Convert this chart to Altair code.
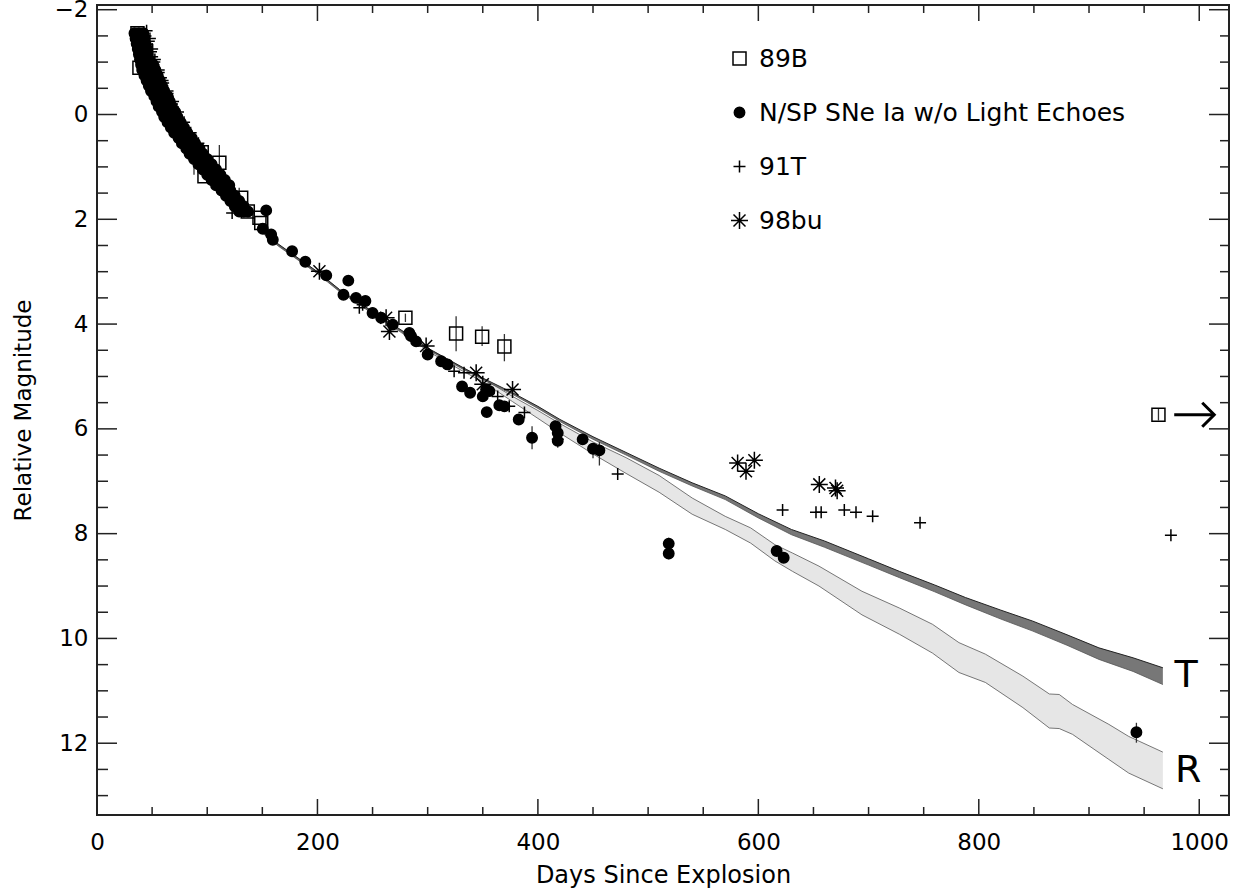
import altair as alt
import pandas as pd

# ---------------- data ----------------
series_names = ["89B", "N/SP SNe Ia w/o Light Echoes", "91T", "98bu"]

sq_day = [36.7, 38.5, 44.6, 95, 97.5, 111, 130.8, 136.8, 147.4, 149, 279.8, 325.8, 349.4, 369.6, 963]
sq_mag = [-1.55, -0.89, -1.21, 0.72, 1.18, 0.92, 1.59, 1.85, 1.97, 2.07, 3.88, 4.18, 4.24, 4.43, 5.73]

# dense early N/SP photometry (rows of roughly equal magnitude)
nsp_early_day = [34, 38, 42, 35, 39, 43, 36, 40, 44, 37, 41, 45, 38, 42, 46, 39, 43, 47,
                 40, 44, 48, 51, 41, 45, 49, 53, 43, 47, 51, 55, 45, 49, 53, 57, 47, 51, 55, 59,
                 49, 53, 57, 61, 52, 56, 60, 64, 54, 58, 62, 66, 56, 60, 64, 68, 59, 63, 67, 71,
                 61, 65, 69, 73, 64, 68, 72, 76, 67, 71, 75, 79, 70, 74, 78, 82, 74, 78, 82, 86,
                 77, 81, 85, 89, 81, 85, 89, 93, 84, 88, 92, 96, 88, 92, 96, 100, 92, 96, 100, 104,
                 96, 100, 104, 108, 100, 104, 108, 112, 104, 108, 112, 116, 108, 112, 116, 120,
                 113, 117, 121, 117, 121, 125, 121, 125, 129, 125, 129, 133, 129, 133, 137]
nsp_early_mag = [-1.55, -1.55, -1.55, -1.45, -1.45, -1.45, -1.35, -1.35, -1.35, -1.25, -1.25, -1.25,
                 -1.15, -1.15, -1.15, -1.05, -1.05, -1.05,
                 -0.95, -0.95, -0.95, -0.95, -0.85, -0.85, -0.85, -0.85, -0.75, -0.75, -0.75, -0.75,
                 -0.65, -0.65, -0.65, -0.65, -0.55, -0.55, -0.55, -0.55, -0.45, -0.45, -0.45, -0.45,
                 -0.35, -0.35, -0.35, -0.35, -0.25, -0.25, -0.25, -0.25, -0.15, -0.15, -0.15, -0.15,
                 -0.05, -0.05, -0.05, -0.05, 0.05, 0.05, 0.05, 0.05, 0.15, 0.15, 0.15, 0.15,
                 0.25, 0.25, 0.25, 0.25, 0.35, 0.35, 0.35, 0.35, 0.45, 0.45, 0.45, 0.45,
                 0.55, 0.55, 0.55, 0.55, 0.65, 0.65, 0.65, 0.65, 0.75, 0.75, 0.75, 0.75,
                 0.85, 0.85, 0.85, 0.85, 0.95, 0.95, 0.95, 0.95, 1.05, 1.05, 1.05, 1.05,
                 1.15, 1.15, 1.15, 1.15, 1.25, 1.25, 1.25, 1.25, 1.35, 1.35, 1.35, 1.35,
                 1.45, 1.45, 1.45, 1.55, 1.55, 1.55, 1.65, 1.65, 1.65, 1.75, 1.75, 1.75,
                 1.85, 1.85, 1.85]

nsp_day = [153.5, 150.4, 158, 159.5, 177, 189, 208, 228, 223.6, 235, 243.5, 250, 257.8, 268.3, 283.4,
           285, 289.5, 300, 312.2, 318, 331.2, 338.5, 350, 353, 356, 353.6, 365, 369.6, 382.6, 394.7,
           416, 418, 418, 440.6, 450, 455.8, 518.7, 518.7, 616.6, 623, 943]
nsp_mag = [1.83, 2.18, 2.29, 2.39, 2.61, 2.81, 3.07, 3.17, 3.44, 3.5, 3.56, 3.79, 3.88, 4.01, 4.17,
           4.23, 4.33, 4.58, 4.71, 4.77, 5.19, 5.31, 5.38, 5.25, 5.28, 5.68, 5.55, 5.57, 5.82, 6.17,
           5.95, 6.08, 6.23, 6.2, 6.38, 6.41, 8.19, 8.38, 8.33, 8.46, 11.79]

t91_day = [45, 47, 49, 52, 56, 60, 64, 68, 72, 77, 83, 44, 50, 58,
           48, 50, 52.5, 56, 59.5, 64, 69, 73.5, 79, 85, 92,
           122.6, 238, 241, 324, 333, 363.5, 374, 387.8, 418, 472.4, 622, 652.3, 657, 678, 688.6,
           703.7, 746.7, 974.3]
t91_mag = [-1.6, -1.4, -1.2, -1.0, -0.8, -0.6, -0.4, -0.2, 0.0, 0.2, 0.4, -1.5, -1.1, -0.7,
           -1.45, -1.25, -1.05, -0.85, -0.65, -0.45, -0.25, -0.05, 0.15, 0.35, 0.55,
           1.88, 3.69, 3.63, 4.9, 4.93, 5.38, 5.57, 5.69, 6.2, 6.86, 7.55, 7.59, 7.59, 7.55, 7.59,
           7.67, 7.79, 8.03]

bu98_day = [201.8, 262.3, 265.3, 298.6, 344, 350, 377, 581.2, 596.4, 588.8, 655.3, 670, 671.5]
bu98_mag = [2.99, 3.88, 4.14, 4.42, 4.93, 5.15, 5.25, 6.65, 6.6, 6.81, 7.06, 7.13, 7.18]

err_day = [88, 111, 129, 279.8, 325.8, 349.4, 369.6, 394.7, 418, 450, 455.8, 518.7, 943, 963]
err_lo = [0.45, 0.58, 1.4, 3.8, 3.85, 4.04, 4.19, 5.95, 5.98, 6.28, 6.25, 8.08, 11.61, 5.62]
err_hi = [1.15, 1.24, 1.65, 3.96, 4.52, 4.42, 4.71, 6.39, 6.36, 6.56, 6.70, 8.49, 11.99, 5.84]

T_day = [150, 165, 200, 220, 250, 286, 302, 332, 350, 377, 400, 420, 450, 480, 510, 540, 570, 600,
         630, 660, 700, 728, 760, 788, 820, 849, 880, 909, 940, 967]
T_up = [2.22, 2.48, 3.00, 3.34, 3.76, 4.25, 4.48, 4.83, 5.03, 5.31, 5.57, 5.82, 6.15, 6.45, 6.75,
        7.03, 7.28, 7.62, 7.92, 8.14, 8.48, 8.72, 8.98, 9.22, 9.46, 9.67, 9.93, 10.18, 10.37, 10.56]
T_lo = [2.25, 2.51, 3.03, 3.37, 3.79, 4.28, 4.51, 4.86, 5.06, 5.34, 5.61, 5.86, 6.20, 6.50, 6.81,
        7.09, 7.35, 7.70, 8.02, 8.26, 8.60, 8.84, 9.11, 9.36, 9.63, 9.86, 10.13, 10.40, 10.63, 10.88]

R_day = [150, 165, 200, 220, 250, 286, 302, 332, 350, 377, 400, 420, 450, 480, 510, 540, 570, 593,
         615, 631, 655, 694, 728, 758, 782, 806, 840, 864, 873, 885, 918, 936, 967]
R_up = [2.23, 2.49, 3.01, 3.35, 3.77, 4.26, 4.49, 4.84, 5.04, 5.38, 5.65, 5.90, 6.25, 6.55, 6.89,
        7.32, 7.67, 7.89, 8.21, 8.37, 8.62, 9.10, 9.42, 9.73, 10.08, 10.30, 10.72, 11.06, 11.07,
        11.26, 11.64, 11.87, 12.17]
R_lo = [2.26, 2.52, 3.04, 3.38, 3.80, 4.30, 4.54, 4.90, 5.10, 5.48, 5.80, 6.08, 6.48, 6.85, 7.21,
        7.63, 7.92, 8.18, 8.52, 8.72, 9.00, 9.55, 9.92, 10.28, 10.65, 10.84, 11.32, 11.71, 11.72,
        11.83, 12.31, 12.57, 12.87]

band_labels = ["T", "R"]
band_label_day = [988, 990]
band_label_mag = [10.72, 12.53]

arrow_day = [977.3, 1013.6]
arrow_mag = 5.73

x_major = [0, 200, 400, 600, 800, 1000]
x_minor = [50, 100, 150, 250, 300, 350, 450, 500, 550, 650, 700, 750, 850, 900, 950]
y_major = [-2, 0, 2, 4, 6, 8, 10, 12]
y_minor = [-1.5, -1, -0.5, 0.5, 1, 1.5, 2.5, 3, 3.5, 4.5, 5, 5.5, 6.5, 7, 7.5, 8.5, 9, 9.5,
           10.5, 11, 11.5, 12.5, 13]

# ---------------- tables ----------------
pts = pd.concat([
    pd.DataFrame({"series": series_names[1], "day": nsp_early_day, "mag": nsp_early_mag}),
    pd.DataFrame({"series": series_names[1], "day": nsp_day, "mag": nsp_mag}),
    pd.DataFrame({"series": series_names[2], "day": t91_day, "mag": t91_mag}),
    pd.DataFrame({"series": series_names[3], "day": bu98_day, "mag": bu98_mag}),
    pd.DataFrame({"series": series_names[0], "day": sq_day, "mag": sq_mag}),
], ignore_index=True)
err = pd.DataFrame({"day": err_day, "mag": err_lo, "mag2": err_hi})
tband = pd.DataFrame({"day": T_day, "mag": T_up, "mag2": T_lo})
rband = pd.DataFrame({"day": R_day, "mag": R_up, "mag2": R_lo})
lab = pd.DataFrame({"day": band_label_day, "mag": band_label_mag, "t": band_labels})
arrow_shaft = pd.DataFrame({"day": [arrow_day[0]], "day2": [arrow_day[1]], "mag": [arrow_mag]})
arrow_head = pd.DataFrame({"day": [arrow_day[1]], "mag": [arrow_mag]})
xmaj = pd.DataFrame({"day": x_major})
xmin = pd.DataFrame({"day": x_minor})
ymaj = pd.DataFrame({"mag": y_major})
ymin = pd.DataFrame({"mag": y_minor})

W, H = 1132, 810
FONT = "DejaVu Sans"
INK = "#222222"

xscale = alt.Scale(domain=[0, 1027], nice=False, zero=False)
yscale = alt.Scale(domain=[-2.09, 13.37], nice=False, zero=False, reverse=True)
xaxis = alt.Axis(values=x_major, title="Days Since Explosion", ticks=False, domain=False, grid=False,
                 labelFontSize=23, labelFont=FONT, labelPadding=16, labelFlush=False, labelColor="black",
                 titleFont=FONT, titleFontSize=24, titleFontWeight="normal", titleColor="black",
                 titlePadding=9, format="d")
yaxis = alt.Axis(values=y_major, title="Relative Magnitude", ticks=False, domain=False, grid=False,
                 labelFontSize=23, labelFont=FONT, labelPadding=9, labelFlush=False, labelColor="black",
                 titleFont=FONT, titleFontSize=23, titleFontWeight="normal", titleColor="black",
                 titlePadding=19, format="d")


def X(f="day"):
    return alt.X(f"{f}:Q", scale=xscale, axis=xaxis)


def Y(f="mag"):
    return alt.Y(f"{f}:Q", scale=yscale, axis=yaxis)


# bands
r_area = alt.Chart(rband).mark_area(color="#e6e6e6", opacity=1).encode(x=X(), y=Y(), y2="mag2:Q")
r_up = alt.Chart(rband).mark_line(color="#555555", strokeWidth=0.8).encode(x=X(), y=Y("mag"))
r_lo = alt.Chart(rband).mark_line(color="#555555", strokeWidth=0.8).encode(x=X(), y=Y("mag2"))
t_area = alt.Chart(tband).mark_area(color="#777777", opacity=1).encode(x=X(), y=Y(), y2="mag2:Q")
t_up = alt.Chart(tband).mark_line(color="#222222", strokeWidth=1.0).encode(x=X(), y=Y("mag"))
t_lo = alt.Chart(tband).mark_line(color="#555555", strokeWidth=0.8).encode(x=X(), y=Y("mag2"))

errbars = alt.Chart(err).mark_rule(color="#333333", strokeWidth=1.3).encode(x=X(), y=Y(), y2="mag2:Q")

shape_paths = [
    "M-0.65,-0.65L0.65,-0.65L0.65,0.65L-0.65,0.65Z",
    "M-0.52,0A0.52,0.52,0,1,0,0.52,0A0.52,0.52,0,1,0,-0.52,0Z",
    "M-0.6,0L0.6,0M0,-0.6L0,0.6",
    "M-0.85,0L0.85,0M0,-0.85L0,0.85M-0.6,-0.6L0.6,0.6M-0.6,0.6L0.6,-0.6",
]
leg = alt.Legend(title=None, orient="none", legendX=630, legendY=41, padding=0,
                 labelFont=FONT, labelFontSize=25, labelColor="black", labelOffset=7, labelLimit=0,
                 rowPadding=28, symbolSize=400, symbolStrokeWidth=1.5)
points = alt.Chart(pts).mark_point(size=400, strokeWidth=1.5, opacity=1).encode(
    x=X(), y=Y(),
    shape=alt.Shape("series:N", scale=alt.Scale(domain=series_names, range=shape_paths), legend=leg),
    fill=alt.Fill("series:N", scale=alt.Scale(domain=series_names,
                                              range=["transparent", "black", "transparent", "transparent"]),
                  legend=leg),
    stroke=alt.Stroke("series:N", scale=alt.Scale(domain=series_names,
                                                  range=["black", "black", "black", "black"]),
                      legend=leg),
)

labels = alt.Chart(lab).mark_text(fontSize=38, font=FONT, color="black", align="center",
                                  baseline="middle").encode(x=X(), y=Y(), text="t:N")

shaft = alt.Chart(arrow_shaft).mark_rule(color="black", strokeWidth=3).encode(x=X(), x2="day2:Q", y=Y())
head = alt.Chart(arrow_head).mark_point(shape="M-1,-1L0,0L-1,1", size=576, stroke="black",
                                        strokeWidth=3, filled=False, opacity=1).encode(x=X(), y=Y())

# inward ticks on all four sides
TK = dict(color=INK, strokeWidth=1.5)
xb_maj = alt.Chart(xmaj).mark_rule(**TK).encode(x=X(), y=alt.value(H), y2=alt.value(H - 16))
xt_maj = alt.Chart(xmaj).mark_rule(**TK).encode(x=X(), y=alt.value(0), y2=alt.value(16))
xb_min = alt.Chart(xmin).mark_rule(**TK).encode(x=X(), y=alt.value(H), y2=alt.value(H - 8))
xt_min = alt.Chart(xmin).mark_rule(**TK).encode(x=X(), y=alt.value(0), y2=alt.value(8))
yl_maj = alt.Chart(ymaj).mark_rule(**TK).encode(y=Y(), x=alt.value(0), x2=alt.value(20))
yr_maj = alt.Chart(ymaj).mark_rule(**TK).encode(y=Y(), x=alt.value(W), x2=alt.value(W - 20))
yl_min = alt.Chart(ymin).mark_rule(**TK).encode(y=Y(), x=alt.value(0), x2=alt.value(11))
yr_min = alt.Chart(ymin).mark_rule(**TK).encode(y=Y(), x=alt.value(W), x2=alt.value(W - 9))

chart = alt.layer(
    r_area, t_area, r_up, r_lo, t_lo, t_up, errbars, points, labels, shaft, head,
    xb_maj, xt_maj, xb_min, xt_min, yl_maj, yr_maj, yl_min, yr_min,
).properties(
    width=W, height=H,
    autosize=alt.AutoSizeParams(type="none"),
    padding={"left": 97, "top": 5, "right": 18, "bottom": 79},
    background="white",
).configure_view(stroke=INK, strokeWidth=2)

chart.save("out.html", embed_options={"renderer": "svg", "actions": False})
